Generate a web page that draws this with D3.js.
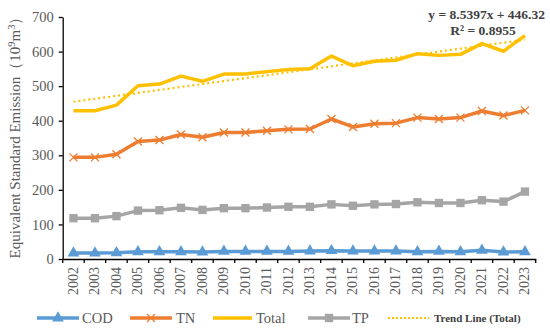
<!DOCTYPE html>
<html><head><meta charset="utf-8">
<script src="https://cdn.jsdelivr.net/npm/d3@7"></script>
<style>body{margin:0;background:#fff}svg{display:block}</style>
</head><body>
<script>
const years = ["2002","2003","2004","2005","2006","2007","2008","2009","2010","2011","2012","2013","2014","2015","2016","2017","2018","2019","2020","2021","2022","2023"];
const cod   = [17,17,18,21,21,21,20,22,22,22,22,23,24,23,23,23,21,22,21,25,20,21];
const tn    = [294,294,303,340,344,360,352,366,366,371,375,376,405,382,391,393,409,405,409,428,415,430];
const tp    = [118,118,124,140,141,148,142,147,147,149,151,151,158,154,158,159,164,162,162,170,166,195];
const total = [429,429,445,501,506,529,514,535,535,542,548,550,587,559,572,575,594,589,592,623,601,646];
const trendSlope = 8.5397, trendIntercept = 446.32, r2 = 0.8955;
const yTicks = [0,100,200,300,400,500,600,700];

const W = 550, H = 333;
const m = {l:62.7, r:14.3, t:17, b:74};
const svg = d3.select("body").append("svg").attr("width",W).attr("height",H);
const x = d3.scaleBand().domain(years).range([m.l, W-m.r]);
const y = d3.scaleLinear().domain([0,700]).range([H-m.b, m.t]);
const cx = d => x(d) + x.bandwidth()/2;
const font = "'Liberation Serif','Times New Roman',serif";
const axisCol = "#000";

// Y axis
const ya = svg.append("g").attr("transform",`translate(${m.l},0)`)
  .call(d3.axisLeft(y).tickValues(yTicks).tickSize(4).tickSizeOuter(0).tickPadding(5));
ya.select(".domain").attr("stroke",axisCol).attr("stroke-width",1.3);
ya.selectAll(".tick line").attr("stroke",axisCol).attr("stroke-width",1.3);
ya.selectAll("text").attr("font-family",font).attr("font-size",14.5).attr("fill","#595959");

// X axis
const xa = svg.append("g").attr("transform",`translate(0,${y(0)})`)
  .call(d3.axisBottom(x).tickSize(0).tickSizeOuter(0));
xa.select(".domain").attr("stroke",axisCol).attr("stroke-width",1.3);
xa.selectAll(".tick text").attr("font-family",font).attr("font-size",14).attr("fill","#595959")
  .attr("transform","rotate(-90)").attr("text-anchor","end").attr("dx","-8").attr("dy","0.32em").attr("y",0).attr("x",0);
// boundary ticks
const bounds = years.map(d => x(d)).concat([W-m.r]);
svg.append("g").selectAll("line").data(bounds).join("line")
  .attr("x1",d=>d).attr("x2",d=>d).attr("y1",y(0)).attr("y2",y(0)+4)
  .attr("stroke",axisCol).attr("stroke-width",1.3);

// Y label
svg.append("text").attr("transform",`translate(20,${134}) rotate(-90)`)
  .attr("text-anchor","middle").attr("font-family",font).attr("font-size",15).attr("fill","#595959")
  .html("Equivalent Standard Emission（10<tspan dy='-5' font-size='10.5'>9</tspan><tspan dy='5'>m</tspan><tspan dy='-5' font-size='10.5'>3</tspan><tspan dy='5'>）</tspan>");

const line = d3.line().x((d,i)=>cx(years[i])).y(d=>y(d));
function drawLine(data,color,w){
  svg.append("path").datum(data).attr("d",line).attr("fill","none").attr("stroke",color)
    .attr("stroke-width",w).attr("stroke-linejoin","round");
}
const cCOD="#5B9BD5", cTN="#ED7D31", cTot="#FFC000", cTP="#A5A5A5";

drawLine(tp,cTP,3.5);
drawLine(cod,cCOD,3.5);
drawLine(tn,cTN,3.5);
drawLine(total,cTot,3.5);

// trend
const trend = years.map((d,i)=>trendSlope*(i+1)+trendIntercept);
svg.append("path").datum(trend).attr("d",line).attr("fill","none").attr("stroke",cTot)
  .attr("stroke-width",2.2).attr("stroke-dasharray","2,3");

// markers
const sq = d3.symbol().type(d3.symbolSquare).size(70);
const tri = d3.symbol().type(d3.symbolTriangle).size(60);
function crossPath(s){return `M${-s},${-s}L${s},${s}M${-s},${s}L${s},${-s}`;}
svg.append("g").selectAll("path").data(tp).join("path")
  .attr("transform",(d,i)=>`translate(${cx(years[i])},${y(d)})`).attr("d",sq).attr("fill",cTP);
svg.append("g").selectAll("path").data(cod).join("path")
  .attr("transform",(d,i)=>`translate(${cx(years[i])},${y(d)})`).attr("d",tri).attr("fill",cCOD);
svg.append("g").selectAll("path").data(tn).join("path")
  .attr("transform",(d,i)=>`translate(${cx(years[i])},${y(d)})`).attr("d",crossPath(4)).attr("stroke",cTN).attr("stroke-width",1.3).attr("fill","none");

// equation
svg.append("text").attr("x",545).attr("y",19).attr("text-anchor","end").attr("font-family",font)
  .attr("font-weight","bold").attr("font-size",13.5).attr("fill","#404040")
  .text(`y = ${trendSlope}x + ${trendIntercept}`);
svg.append("text").attr("x",483).attr("y",35).attr("text-anchor","middle").attr("font-family",font)
  .attr("font-weight","bold").attr("font-size",13.5).attr("fill","#404040")
  .text(`R² = ${r2}`);

// legend
const ly = 318;
const lg = svg.append("g");
function legendItem(x1,x2,color,label,tx,marker){
  lg.append("line").attr("x1",x1).attr("x2",x2).attr("y1",ly).attr("y2",ly).attr("stroke",color).attr("stroke-width",3.5);
  const mx=(x1+x2)/2;
  if(marker==="tri") lg.append("path").attr("transform",`translate(${mx},${ly})`).attr("d",tri).attr("fill",color);
  if(marker==="sq") lg.append("path").attr("transform",`translate(${mx},${ly})`).attr("d",sq).attr("fill",color);
  if(marker==="x") lg.append("path").attr("transform",`translate(${mx},${ly})`).attr("d",crossPath(4)).attr("stroke",color).attr("stroke-width",1.3);
  lg.append("text").attr("x",tx).attr("y",ly+5).attr("font-family",font).attr("font-size",14.5).attr("fill","#595959").text(label);
}
legendItem(37,79,cCOD,"COD",82,"tri");
legendItem(130,172,cTN,"TN",176,"x");
legendItem(213,252,cTot,"Total",256,null);
legendItem(308,350,cTP,"TP",352,"sq");
lg.append("line").attr("x1",388).attr("x2",429).attr("y1",ly).attr("y2",ly).attr("stroke",cTot).attr("stroke-width",2).attr("stroke-dasharray","2,2");
lg.append("text").attr("x",434).attr("y",ly+4).attr("font-family",font).attr("font-size",11).attr("font-weight","bold").attr("fill","#404040").text("Trend Line (Total)");
</script>
</body></html>
